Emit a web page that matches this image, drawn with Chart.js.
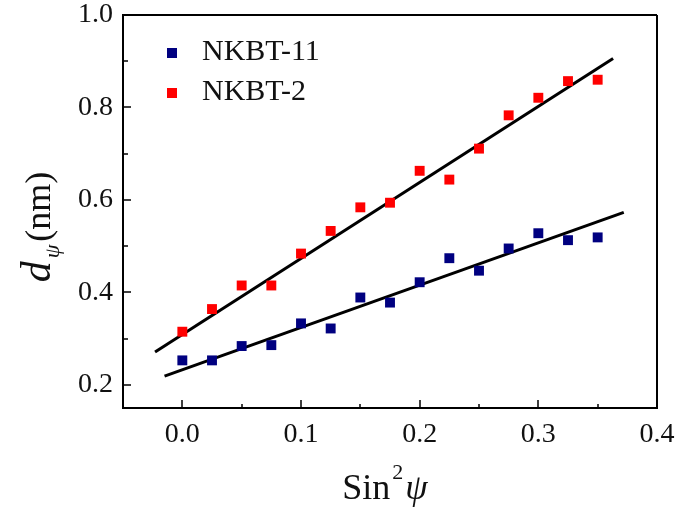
<!DOCTYPE html>
<html>
<head>
<meta charset="utf-8">
<script src="https://cdn.jsdelivr.net/npm/chart.js@4"></script>
<style>
  html, body { margin: 0; padding: 0; background: #fff; }
  #wrap { width: 678px; height: 512px; position: relative; }
</style>
</head>
<body>
<div id="wrap"><canvas id="chart"></canvas></div>
<script>
// sin^2(psi) positions where d-spacing was measured
const sin2psi = [0, 0.025, 0.05, 0.075, 0.1, 0.125, 0.15, 0.175, 0.2, 0.225, 0.25, 0.275, 0.3, 0.325, 0.35];

// measured d-spacing (nm)
const nkbt11 = [0.253, 0.253, 0.284, 0.286, 0.333, 0.322, 0.389, 0.378, 0.422, 0.474, 0.447, 0.495, 0.528, 0.513, 0.519];
const nkbt2 = [0.315, 0.364, 0.415, 0.415, 0.484, 0.533, 0.584, 0.594, 0.663, 0.644, 0.711, 0.783, 0.821, 0.857, 0.860];

// linear fit end points
const fit11X = [-0.015, 0.372];
const fit11Y = [0.219, 0.573];
const fit2X = [-0.023, 0.363];
const fit2Y = [0.271, 0.906];

const xTicks = [0, 0.1, 0.2, 0.3, 0.4];
const yTicks = [0.2, 0.4, 0.6, 0.8, 1.0];
const xMinor = [-0.05, 0.05, 0.15, 0.25, 0.35];
const yMinor = [0.3, 0.5, 0.7, 0.9];

const SERIF = '"Liberation Serif", "Times New Roman", serif';

const toPts = (xs, ys) => xs.map((x, i) => ({ x: x, y: ys[i] }));

// frame on top/right, inward ticks, legend and rich axis titles
const decorations = {
  id: "decorations",
  afterDraw(chart) {
    const { ctx, chartArea: a, scales } = chart;
    const xs = scales.x, ys = scales.y;
    ctx.save();
    ctx.strokeStyle = "#000";
    ctx.lineWidth = 2;
    ctx.beginPath();
    ctx.moveTo(a.left, a.top); ctx.lineTo(a.right, a.top);
    ctx.moveTo(a.right, a.top); ctx.lineTo(a.right, a.bottom);
    ctx.stroke();

    ctx.lineWidth = 1.5;
    ctx.beginPath();
    const tickX = (v, len) => {
      const px = Math.round(xs.getPixelForValue(v));
      ctx.moveTo(px, a.bottom); ctx.lineTo(px, a.bottom - len);
    };
    const tickY = (v, len) => {
      const py = Math.round(ys.getPixelForValue(v));
      ctx.moveTo(a.left, py); ctx.lineTo(a.left + len, py);
    };
    xTicks.slice(0, -1).forEach(v => tickX(v, 8));
    xMinor.slice(1).forEach(v => tickX(v, 4));
    yTicks.forEach(v => tickY(v, 8));
    yMinor.forEach(v => tickY(v, 5));
    ctx.stroke();

    // legend
    const entries = chart.data.datasets.filter(d => !d.isFit);
    entries.forEach((d, i) => {
      const cy = 53 + i * 40;
      ctx.fillStyle = d.backgroundColor;
      ctx.fillRect(167, cy - 5, 10, 10);
      ctx.fillStyle = "#111";
      ctx.font = "30px " + SERIF;
      ctx.textBaseline = "alphabetic";
      ctx.textAlign = "left";
      ctx.fillText(d.label, 202, cy + 7);
    });

    // x title: Sin^2 psi
    ctx.fillStyle = "#111";
    ctx.textBaseline = "alphabetic";
    const xMid = (a.left + a.right) / 2;
    const parts = [
      { t: "Sin", f: "36px " + SERIF, dy: 0 },
      { t: "2", f: "22px " + SERIF, dy: -20 },
      { t: "\u03c8", f: "italic 36px " + SERIF, dy: 0 }
    ];
    let total = 0;
    parts.forEach(p => { ctx.font = p.f; p.w = ctx.measureText(p.t).width; total += p.w + 2; });
    let x = xMid - total / 2 - 4;
    parts.forEach(p => { ctx.font = p.f; ctx.fillText(p.t, x, 499 + p.dy); x += p.w + 2; });

    // y title: d_psi (nm)
    ctx.translate(50, (a.top + a.bottom) / 2 + 14);
    ctx.rotate(-Math.PI / 2);
    const yparts = [
      { t: "d", f: "italic 42px " + SERIF, dy: 0 },
      { t: "\u03c8", f: "italic 22px " + SERIF, dy: 9 },
      { t: "(nm)", f: "36px " + SERIF, dy: 0 }
    ];
    total = 0;
    yparts.forEach(p => { ctx.font = p.f; p.w = ctx.measureText(p.t).width; total += p.w + 3; });
    x = -total / 2;
    yparts.forEach(p => { ctx.font = p.f; ctx.fillText(p.t, x, p.dy); x += p.w + 3; });
    ctx.restore();
  }
};

const pointStyleOf = color => ({
  backgroundColor: color,
  borderColor: color,
  pointStyle: "rect",
  pointRadius: 7,
  pointBorderWidth: 0,
  showLine: false
});

new Chart(document.getElementById("chart"), {
  type: "scatter",
  data: {
    datasets: [
      { label: "NKBT-11", data: toPts(sin2psi, nkbt11), ...pointStyleOf("#000080") },
      { label: "NKBT-2", data: toPts(sin2psi, nkbt2), ...pointStyleOf("#ff0000") },
      { label: "fit 11", isFit: true, data: toPts(fit11X, fit11Y), showLine: true, borderColor: "#000", borderWidth: 3, pointRadius: 0 },
      { label: "fit 2", isFit: true, data: toPts(fit2X, fit2Y), showLine: true, borderColor: "#000", borderWidth: 3, pointRadius: 0 }
    ]
  },
  options: {
    responsive: true,
    maintainAspectRatio: false,
    animation: false,
    layout: { padding: { top: 15, right: 21, left: 0, bottom: 0 } },
    plugins: { legend: { display: false }, tooltip: { enabled: false } },
    scales: {
      x: {
        type: "linear",
        min: -0.05,
        max: 0.4,
        afterBuildTicks: s => { s.ticks = xTicks.map(v => ({ value: v })); },
        afterFit: s => { s.height = 104; s.paddingLeft = 0; s.paddingRight = 0; },
        grid: { drawOnChartArea: false, drawTicks: false },
        border: { display: true, color: "#000", width: 2 },
        ticks: {
          padding: 10,
          color: "#111",
          font: { family: SERIF, size: 28 },
          callback: v => Number(v).toFixed(1)
        }
      },
      y: {
        type: "linear",
        min: 0.15,
        max: 1.0,
        afterBuildTicks: s => { s.ticks = yTicks.map(v => ({ value: v })); },
        afterFit: s => { s.width = 123; s.paddingTop = 0; s.paddingBottom = 0; },
        grid: { drawOnChartArea: false, drawTicks: false },
        border: { display: true, color: "#000", width: 2 },
        ticks: {
          padding: 10,
          color: "#111",
          font: { family: SERIF, size: 28 },
          callback: v => Number(v).toFixed(1)
        }
      }
    }
  },
  plugins: [decorations]
});
</script>
</body>
</html>
